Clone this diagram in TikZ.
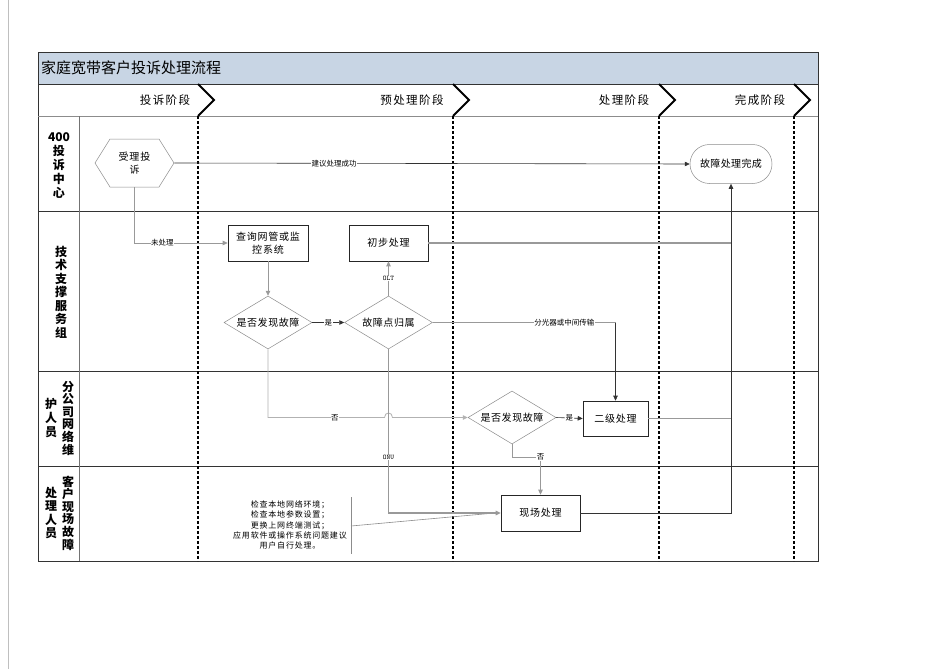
\documentclass[tikz,border=0pt]{standalone}
\usepackage{fontspec}
\setmainfont{Noto Sans CJK SC}
\usetikzlibrary{shapes.geometric,shapes.misc,shapes.symbols,arrows.meta}
\begin{document}
\begin{tikzpicture}[x=1pt,y=-1pt,
  lanetxt/.style={font=\fontsize{12}{13}\selectfont\bfseries, align=center, inner sep=0pt},
  phasetxt/.style={font=\fontsize{11.5}{13}\selectfont\addfontfeature{LetterSpace=12}, inner sep=0pt},
  boxnode/.style={draw=black!85, line width=0.6pt, rectangle, minimum width=80pt, minimum height=36pt, font=\fontsize{10}{13}\selectfont\addfontfeature{LetterSpace=8}, align=center, inner sep=1pt},
  dia/.style={draw=black!45, line width=0.5pt, diamond, aspect=1.6, inner sep=0pt, minimum width=88pt, minimum height=53pt, font=\fontsize{10}{12}\selectfont\addfontfeature{LetterSpace=6}},
  lbl/.style={font=\fontsize{7.5}{8}\selectfont, fill=white, inner sep=0.6pt},
  mono/.style={font=\fontsize{7}{8}\ttfamily, fill=white, inner sep=0.6pt},
  gconn/.style={draw=black!40, line width=0.8pt},
  dconn/.style={draw=black!80, line width=0.6pt},
  arr/.style={-{Triangle[length=5pt,width=4.5pt]}},
  phaseline/.style={line width=1.8pt, dash pattern=on 3pt off 2pt},
  lanesep/.style={draw=black!80, line width=0.6pt}
]
\useasboundingbox (0,0) rectangle (945,669);
\fill[white] (0,0) rectangle (945,669);
\draw[black!25, line width=0.8pt] (8,0) -- (8,669);

% title band
\fill[fill={rgb,255:red,200;green,213;blue,228}] (38,52) rectangle (818,84);
\node[anchor=west, font=\fontsize{15}{17}\selectfont, inner sep=0pt] (title) at (41,68) {家庭宽带客户投诉处理流程};
% frame & lanes
\draw[lanesep] (38,52) rectangle (818,561);
\draw[lanesep] (38,84) -- (818,84);
\draw[draw=black!45, line width=0.8pt] (38,116) -- (818,116);
\draw[lanesep] (38,211) -- (818,211);
\draw[lanesep] (38,371) -- (818,371);
\draw[lanesep] (38,466) -- (818,466);
\draw[draw=black!55, line width=0.8pt] (79,116) -- (79,561);

% phase labels
\node[phasetxt] (p1) at (165,100) {投诉阶段};
\node[phasetxt] (p2) at (412,100) {预处理阶段};
\node[phasetxt] (p3) at (624,100) {处理阶段};
\node[phasetxt] (p4) at (760,100) {完成阶段};

% chevrons and phase separators
\foreach \px in {198,453,659,794}{
  \draw[line width=1.8pt, line join=miter] (\px,84) -- (\px+16,100) -- (\px,116);
  \draw[phaseline] (\px,116) -- (\px,561);
}

% lane labels
\node[lanetxt, font=\fontsize{12}{14}\selectfont\bfseries] (l1) at (59,166) {400\\投\\诉\\中\\心};
\node[lanetxt, font=\fontsize{12}{13.5}\selectfont\bfseries] (l2lab) at (61,292) {技\\术\\支\\撑\\服\\务\\组};
\node[lanetxt, font=\fontsize{12}{12.6}\selectfont\bfseries] (l3a) at (68,418) {分\\公\\司\\网\\络\\维};
\node[lanetxt, font=\fontsize{12}{14}\selectfont\bfseries] (l3b) at (51,418) {护\\人\\员};
\node[lanetxt, font=\fontsize{12}{12.6}\selectfont\bfseries] (l4a) at (68,513) {客\\户\\现\\场\\故\\障};
\node[lanetxt, font=\fontsize{12}{13.3}\selectfont\bfseries] (l4b) at (51,513) {处\\理\\人\\员};

% nodes
\node[draw=black!45, line width=0.5pt, signal, signal to=east and west, signal pointer angle=116,
      minimum width=79pt, minimum height=48pt, inner sep=0pt, align=center,
      font=\fontsize{10}{13}\selectfont\addfontfeature{LetterSpace=8}] (acc) at (134.5,163) {受理投\\诉};
\node[draw=black!45, line width=0.5pt, rounded rectangle, minimum width=82pt, minimum height=39pt,
      inner sep=0pt, font=\fontsize{10}{12}\selectfont\addfontfeature{LetterSpace=4}] (done) at (731,164) {故障处理完成};
\node[boxnode] (query) at (268,243) {查询网管或监\\控系统};
\node[boxnode, minimum width=79pt] (init) at (388.5,243) {初步处理};
\node[dia] (dia1) at (268,322.5) {是否发现故障};
\node[dia] (dia2b) at (388.5,322.5) {故障点归属};
\node[dia] (dia3) at (512,417.5) {是否发现故障};
\node[boxnode, minimum width=65pt, minimum height=35pt] (lvl2) at (615.5,418.5) {二级处理};
\node[boxnode, minimum width=79pt, minimum height=36pt] (onsite) at (540.5,513) {现场处理};

% annotation
\node[font=\fontsize{8}{10.3}\selectfont\addfontfeature{LetterSpace=10}, align=center, inner sep=0pt] (note) at (290,525)
  {检查本地网络环境；\\检查本地参数设置；\\更换上网终端测试；\\应用软件或操作系统问题建议\\用户自行处理。};
\coordinate (br1) at (351,497);
\coordinate (br2) at (351,554);
\coordinate (brm) at (351,526);
\draw[draw=black!45, line width=0.8pt] (br1) -- (br2);
\draw[draw=black!45, line width=0.6pt] (brm) -- ([xshift=-6pt]onsite.west);

% connectors
\draw[dconn, arr] (acc.east) -- node[lbl, pos=0.31]{建议处理成功} (done.west);
\draw[gconn, arr] (acc.south) |- node[lbl, pos=0.65]{未处理} (query.west);
\draw[gconn, arr] (query.south) -- (dia1.north);
\draw[dconn, arr] (dia1.east) -- node[lbl]{是} (dia2b.west);
\draw[gconn, arr] (dia2b.north) -- node[mono]{OLT} (init.south);
\draw[gconn, line width=1.2pt] (init.east) -- (init.east -| done.south);
\coordinate (k1) at (dia2b.east -| lvl2.north);
\draw[gconn] (dia2b.east) -- node[lbl, pos=0.72]{分光器或中间传输} (k1);
\draw[dconn, arr] (k1) -- (lvl2.north);
\coordinate (hop) at (dia2b.south |- dia3.west);
\draw[draw=black!30, line width=0.8pt, arr] (dia1.south) -- (dia1.south |- dia3.west)
   -- node[lbl, pos=0.575]{否} ([xshift=-4pt]hop)
   .. controls ([xshift=-4pt,yshift=6pt]hop) and ([xshift=4pt,yshift=6pt]hop) .. ([xshift=4pt]hop)
   -- (dia3.west);
\draw[gconn, line width=1.2pt, arr] (dia2b.south) |- node[mono, pos=0.33]{ONU} (onsite.west);
\draw[dconn, arr] (dia3.east) -- node[lbl]{是} (lvl2.west);
\coordinate (n2) at (540.5,457);
\draw[gconn, arr] (dia3.south) |- (n2) node[lbl]{否} -- (onsite.north);
\draw[gconn] (lvl2.east) -- (lvl2.east -| done.south);
\draw[dconn, arr] (onsite.east) -| (done.south);
\end{tikzpicture}
\end{document}
